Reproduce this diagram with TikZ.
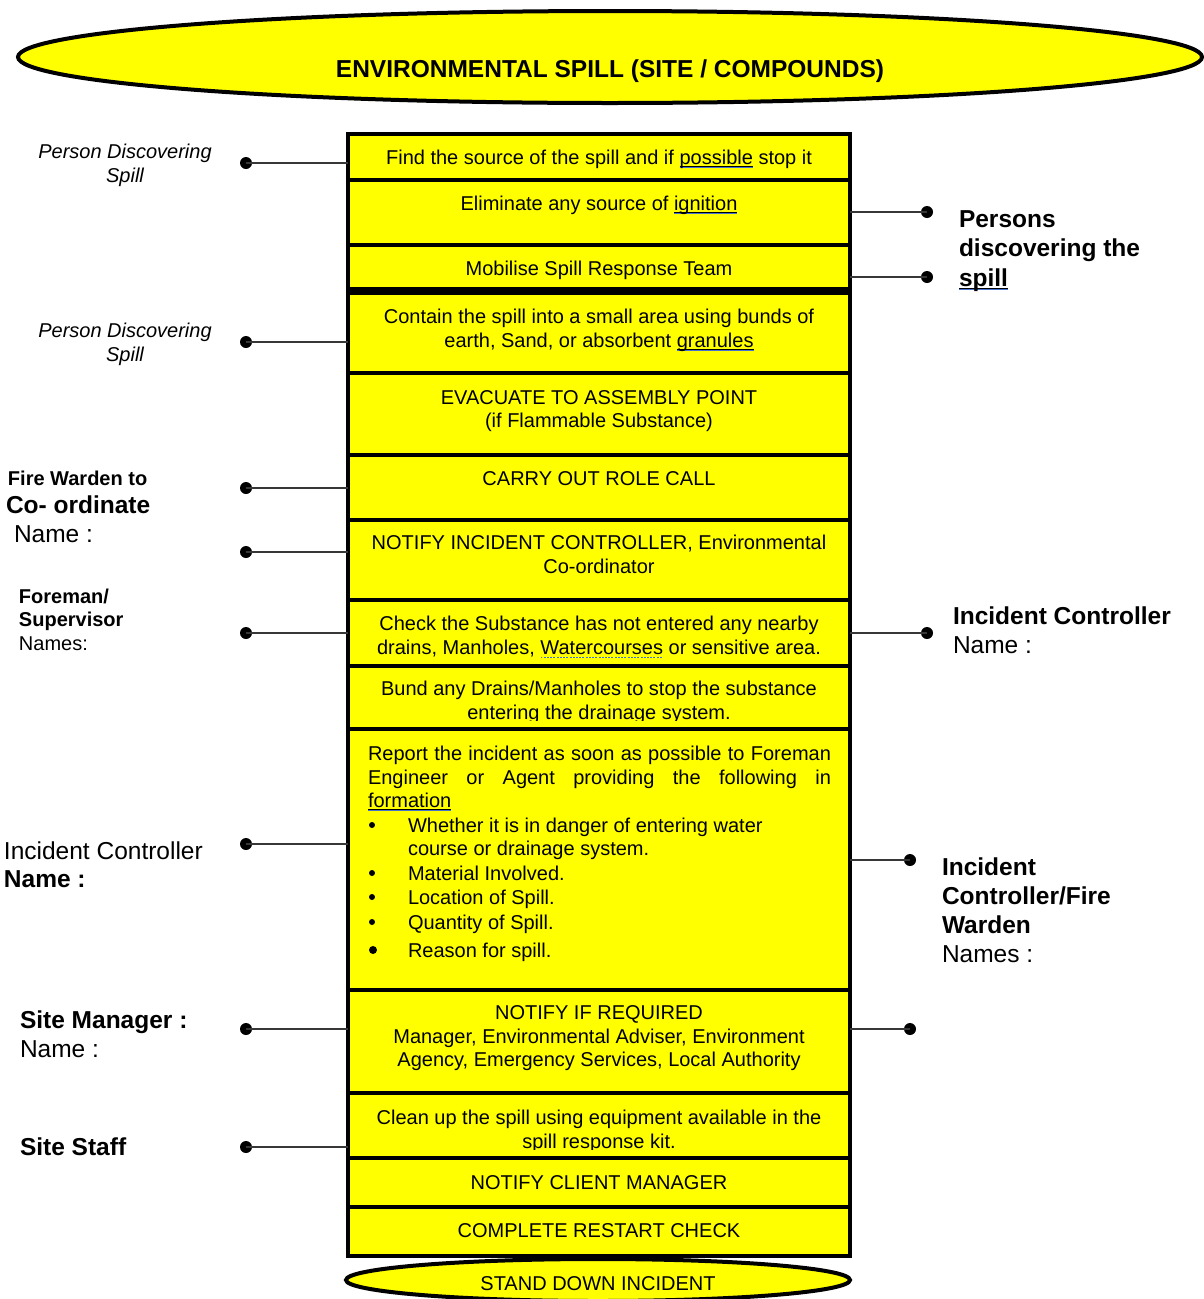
\documentclass[tikz,border=0pt]{standalone}
\usepackage{fontspec}
\setmainfont{Liberation Sans}
\usetikzlibrary{shapes.geometric}
\definecolor{spyellow}{RGB}{255,255,0}
\definecolor{ulblue}{RGB}{70,114,210}
\definecolor{connc}{RGB}{55,55,55}
\newcommand\szA{\fontsize{20}{24}\selectfont}
\newcommand\szB{\fontsize{24.5}{29.5}\selectfont}
\newsavebox\spbox
\newcommand\spchk[1]{\sbox\spbox{#1}\leavevmode\rlap{\color{black}\rule[-2.4pt]{\wd\spbox}{0.8pt}}\rlap{\color{ulblue}\rule[-4.2pt]{\wd\spbox}{0.9pt}}\usebox\spbox}
\newcommand\spdash[1]{\sbox\spbox{#1}\leavevmode\rlap{\hbox to \wd\spbox{\color{ulblue}\xleaders\hbox{\rule[-3.5pt]{2pt}{0.8pt}\hskip1.2pt}\hfill}}\usebox\spbox}
\begin{document}
\begin{tikzpicture}[x=1pt,y=-1pt,
  boxfill/.style={fill=spyellow, draw=none, minimum width=502pt, inner sep=0pt, outer sep=0pt, anchor=north west},
  boxline/.style={draw=black, line width=4pt},
  txt/.style={inner sep=0pt, outer sep=0pt, font=\szA, anchor=base},
  ltxt/.style={inner sep=0pt, outer sep=0pt, anchor=base west},
  oval/.style={ellipse, draw=black, line width=4pt, fill=spyellow, inner sep=0pt},
  dot/.style={circle, fill=black, inner sep=0pt, minimum size=12pt},
  bul/.style={circle, fill=black, inner sep=0pt, minimum size=6pt},
  conn/.style={draw=connc, line width=1.6pt}]
\useasboundingbox (0,0) rectangle (1203,1299);
\fill[white] (0,0) rectangle (1203,1299);
% title
\node[oval, minimum width=1184pt, minimum height=92pt] (title) at (610,57) {};
\node[txt, font=\szB\bfseries] (titletext) at (610,77) {ENVIRONMENTAL SPILL (SITE / COMPOUNDS)};
% boxes
\foreach \n/\t/\b in {1/134/180, 2/180/245, 3/245/289, 4/293/373, 5/373/455, 6/455/520, 7/520/600, 8/600/666, 9/666/729, 10/729/990, 11/990/1093, 12/1093/1158, 13/1158/1207, 14/1207/1256}{
  \pgfmathsetmacro\h{\b-\t}
  \node[boxfill, minimum height=\h pt] (b\n) at (348,\t) {};
}
% box texts
\node[txt] (t1) at (599,164) {Find the source of the spill and if \spchk{possible} stop it};
\node[txt] (t2) at (599,210) {Eliminate any source of \spchk{ignition}};
\node[txt] (t3) at (599,275) {Mobilise Spill Response Team};
\node[txt] (t4a) at (599,323) {Contain the spill into a small area using bunds of};
\node[txt] (t4b) at (599,347) {earth, Sand, or absorbent \spchk{granules}};
\node[txt] (t5a) at (599,404) {EVACUATE TO ASSEMBLY POINT};
\node[txt] (t5b) at (599,427) {(if Flammable Substance)};
\node[txt] (t6) at (599,485) {CARRY OUT ROLE CALL};
\node[txt] (t7a) at (599,549) {NOTIFY INCIDENT CONTROLLER, Environmental};
\node[txt] (t7b) at (599,573) {Co-ordinator};
\node[txt] (t8a) at (599,630) {Check the Substance has not entered any nearby};
\node[txt] (t8b) at (599,654) {drains, Manholes, \spdash{Watercourses} or sensitive area.};
\node[txt] (t9a) at (599,695) {Bund any Drains/Manholes to stop the substance};
\begin{scope}
\clip (348,700) rectangle (850,720.5);
\node[txt] (t9b) at (599,719) {entering the drainage system.};
\end{scope}
\node[txt, anchor=base west] (t10a) at (368,760) {\makebox[463pt][s]{Report the incident as soon as possible to Foreman}};
\node[txt, anchor=base west] (t10b) at (368,784) {\makebox[463pt][s]{Engineer or Agent providing the following in}};
\node[txt, anchor=base west] (t10c) at (368,807) {\spchk{formation}};
\foreach \k/\y in {1/825, 2/873, 3/897, 4/922}{
  \node[bul] (bul\k) at (372,\y) {};
}
\node[bul, minimum size=8pt] (bul5) at (373,950) {};
\node[txt, anchor=base west] (t10d) at (408,832) {Whether it is in danger of entering water};
\node[txt, anchor=base west] (t10e) at (408,855) {course or drainage system.};
\node[txt, anchor=base west] (t10f) at (408,880) {Material Involved.};
\node[txt, anchor=base west] (t10g) at (408,904) {Location of Spill.};
\node[txt, anchor=base west] (t10h) at (408,929) {Quantity of Spill.};
\node[txt, anchor=base west] (t10i) at (408,957) {Reason for spill.};
\node[txt] (t11a) at (599,1019) {NOTIFY IF REQUIRED};
\node[txt] (t11b) at (599,1043) {Manager, Environmental Adviser, Environment};
\node[txt] (t11c) at (599,1066) {Agency, Emergency Services, Local Authority};
\node[txt] (t12a) at (599,1124) {Clean up the spill using equipment available in the};
\begin{scope}
\clip (348,1130) rectangle (850,1149.5);
\node[txt] (t12b) at (599,1148) {spill response kit.};
\end{scope}
\node[txt] (t13) at (599,1189) {NOTIFY CLIENT MANAGER};
\node[txt] (t14) at (599,1237) {COMPLETE RESTART CHECK};
% borders
\foreach \n in {1,...,14}{
  \draw[boxline] (b\n.south west) rectangle (b\n.north east);
}
% stand down
\node[oval, minimum width=504pt, minimum height=42pt] (stand) at (598,1280) {};
\node[txt] (standtext) at (598,1290) {STAND DOWN INCIDENT};
% left labels
\node[txt, font=\szA\itshape] (l1a) at (125,158) {Person Discovering};
\node[txt, font=\szA\itshape] (l1b) at (125,182) {Spill};
\node[txt, font=\szA\itshape] (l2a) at (125,337) {Person Discovering};
\node[txt, font=\szA\itshape] (l2b) at (125,361) {Spill};
\node[ltxt, font=\szA\bfseries] (l3a) at (8,485) {Fire Warden to};
\node[ltxt, font=\szB\bfseries] (l3b) at (6,513) {Co- ordinate};
\node[ltxt, font=\szB] (l3c) at (14,542) {Name :};
\node[ltxt, font=\szA\bfseries] (l4a) at (19,603) {Foreman/};
\node[ltxt, font=\szA\bfseries] (l4b) at (19,626) {Supervisor};
\node[ltxt, font=\szA] (l4c) at (19,650) {Names:};
\node[ltxt, font=\szB] (l5a) at (4,859) {Incident Controller};
\node[ltxt, font=\szB\bfseries] (l5b) at (4,887) {Name :};
\node[ltxt, font=\szB\bfseries] (l6a) at (20,1028) {Site Manager :};
\node[ltxt, font=\szB] (l6b) at (20,1057) {Name :};
\node[ltxt, font=\szB\bfseries] (l7a) at (20,1155) {Site Staff};
% right labels
\node[ltxt, font=\szB\bfseries] (r1a) at (959,227) {Persons};
\node[ltxt, font=\szB\bfseries] (r1b) at (959,256) {discovering the};
\node[ltxt, font=\szB\bfseries] (r1c) at (959,286) {\spchk{spill}};
\node[ltxt, font=\szB\bfseries] (r2a) at (953,624) {Incident Controller};
\node[ltxt, font=\szB] (r2b) at (953,653) {Name :};
\node[ltxt, font=\szB\bfseries] (r3a) at (942,875) {Incident};
\node[ltxt, font=\szB\bfseries] (r3b) at (942,904) {Controller/Fire};
\node[ltxt, font=\szB\bfseries] (r3c) at (942,933) {Warden};
\node[ltxt, font=\szB] (r3d) at (942,962) {Names :};
% left dots and connectors
\foreach \k/\y/\bx in {1/163/1, 2/342/4, 3/488/6, 4/552/7, 5/633/8, 6/844/10, 7/1029/11, 8/1147/12}{
  \node[dot] (dl\k) at (246,\y) {};
  \draw[conn] (dl\k.center) -- (dl\k -| b\bx.west);
}
% right dots and connectors
\foreach \k/\x/\y/\bx in {1/927/212/2, 2/927/277/3, 3/927/633/8, 4/910/860/10, 5/910/1029/11}{
  \node[dot] (dr\k) at (\x,\y) {};
  \draw[conn] (dr\k -| b\bx.east) -- (dr\k.center);
}
\end{tikzpicture}
\end{document}
